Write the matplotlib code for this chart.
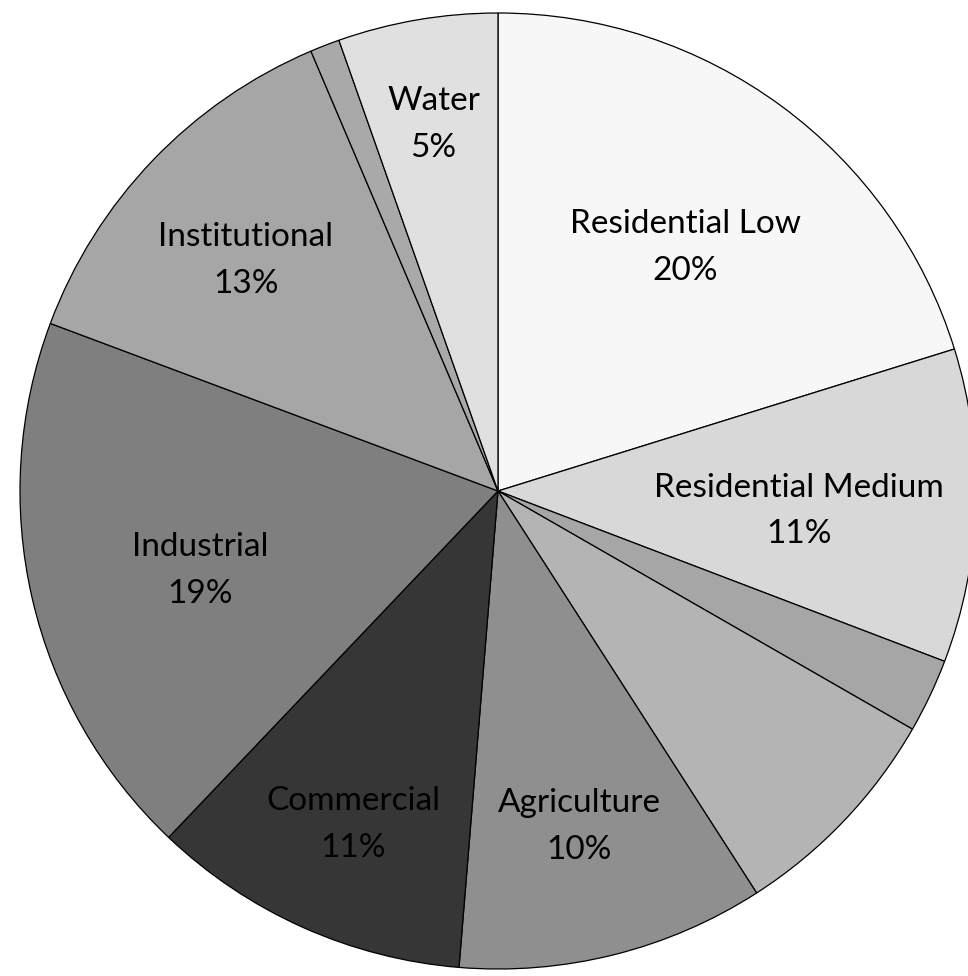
import numpy as np
import matplotlib.pyplot as plt

# land use shares, clockwise from 12 o'clock
names = ["Residential Low", "Residential Medium", "", "", "Agriculture",
         "Commercial", "Industrial", "Institutional", "", "Water"]
shares = [20.2, 10.6, 2.5, 7.6, 10.4, 10.8, 18.6, 12.9, 1.0, 5.4]
greys = ["#f7f7f7", "#d8d8d8", "#a6a6a6", "#b4b4b4", "#8f8f8f",
         "#363636", "#7f7f7f", "#a6a6a6", "#a9a9a9", "#e0e0e0"]
# how far out each label sits (fraction of radius)
label_r = [0.66, 0.63, 0, 0, 0.70, 0.74, 0.64, 0.73, 0, 0.80]

W, H = 968, 976
cx, cy, R = 498, 491, 478

fig = plt.figure(figsize=(W / 100, H / 100), dpi=100)
ax = fig.add_axes([(cx - R) / W, (H - cy - R) / H, 2 * R / W, 2 * R / H])

wedges, _ = ax.pie(shares, startangle=90, counterclock=False, radius=1,
                   colors=greys,
                   wedgeprops=dict(edgecolor="black", linewidth=0.9))
ax.set_xlim(-1, 1)
ax.set_ylim(-1, 1)
ax.set_aspect("auto")
ax.axis("off")

for w, name, val, r in zip(wedges, names, shares, label_r):
    if not name:
        continue
    mid = np.deg2rad((w.theta1 + w.theta2) / 2)
    # labels sit a touch lower than the plain centre
    ax.text(r * np.cos(mid), r * np.sin(mid) - 0.022, f"{name}\n{round(val)}%",
            ha="center", va="center", fontsize=24, family="Lato",
            color="black", linespacing=1.7)

fig.savefig("out.png", dpi=100, facecolor="white")
